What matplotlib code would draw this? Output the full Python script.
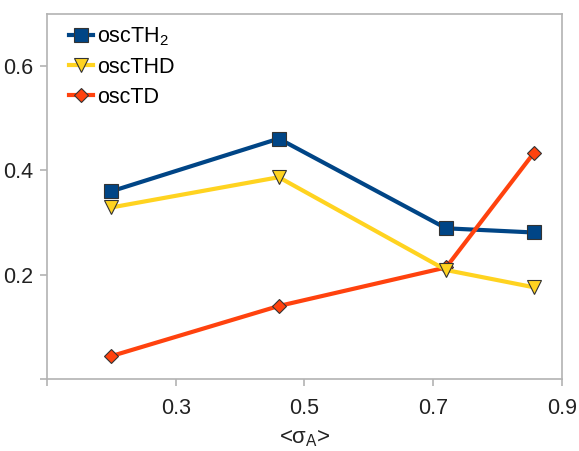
import matplotlib
matplotlib.use("Agg")
import matplotlib.pyplot as plt

plt.rcParams['font.family'] = ['Liberation Sans', 'DejaVu Sans']
plt.rcParams['mathtext.fontset'] = 'custom'
plt.rcParams['mathtext.rm'] = 'Liberation Sans'
plt.rcParams['mathtext.it'] = 'Liberation Sans'

x_vals = [0.20, 0.46, 0.72, 0.856]
th2 = [0.360, 0.461, 0.289, 0.281]
thd = [0.329, 0.387, 0.209, 0.176]
td = [0.044, 0.140, 0.214, 0.433]

labels = ["oscTH$_\\mathrm{2}$", "oscTHD", "oscTD"]
colors = ["#004586", "#ffd320", "#ff420e"]

xticks = [0.1, 0.3, 0.5, 0.7, 0.9]
xticklabels = ["", "0.3", "0.5", "0.7", "0.9"]
yticks = [0.0, 0.2, 0.4, 0.6]
yticklabels = ["", "0.2", "0.4", "0.6"]

fig = plt.figure(figsize=(5.79, 4.51), dpi=100)
ax = fig.add_axes([0.0812, 0.1596, 0.8894, 0.8094])

edge = "#333333"
ax.plot(x_vals, th2, color=colors[0], lw=3, marker='s', ms=10, mfc=colors[0], mec=edge, mew=0.8, label=labels[0], zorder=3)
ax.plot(x_vals, thd, color=colors[1], lw=3, marker='v', ms=10, mfc=colors[1], mec=edge, mew=0.8, label=labels[1], zorder=5)
ax.plot(x_vals, td, color=colors[2], lw=3, marker='D', ms=7.5, mfc=colors[2], mec=edge, mew=0.8, label=labels[2], zorder=4)

ax.set_xlim(0.1, 0.9)
ax.set_ylim(0.0, 0.7)
ax.set_xticks(xticks)
ax.set_xticklabels(xticklabels)
ax.set_yticks(yticks)
ax.set_yticklabels(yticklabels)

for s in ax.spines.values():
    s.set_color("#b3b3b3")
    s.set_linewidth(1.2)

ax.tick_params(axis='both', direction='out', length=5, width=1.2, color="#b3b3b3",
               labelsize=15.5, labelcolor="#222222", pad=5)
ax.tick_params(axis='x', pad=9)

ax.set_xlabel("<σ$_\\mathrm{A}$>", fontsize=16, color="#222222", labelpad=6)

leg = ax.legend(loc='upper left', frameon=False, fontsize=15.5, handlelength=1.1,
                handletextpad=0.2, labelspacing=0.4, borderaxespad=0.15,
                bbox_to_anchor=(0.02, 1.0))

fig.savefig("out.png", dpi=100)
